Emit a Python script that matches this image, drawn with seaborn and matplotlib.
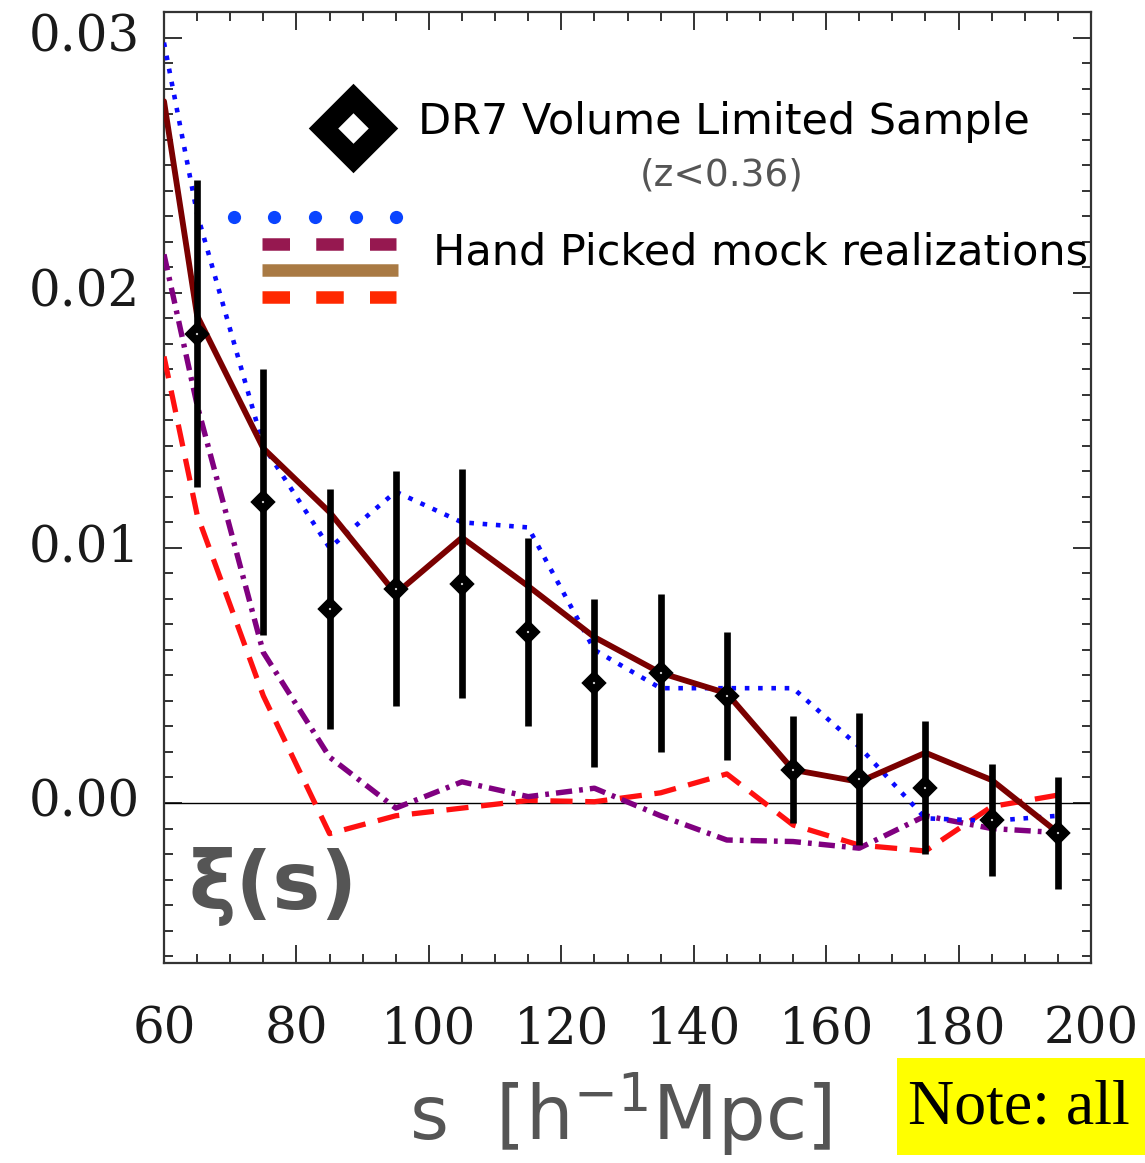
import numpy as np
import pandas as pd
import matplotlib
matplotlib.use("Agg")
import matplotlib.pyplot as plt
import seaborn as sns
from matplotlib.ticker import MultipleLocator, FormatStrFormatter
from matplotlib.patches import Rectangle

# ---------------- data ----------------
s_obs = [65, 75, 85, 95, 105, 115, 125, 135, 145, 155, 165, 175, 185, 195]
xi_obs = [0.0184, 0.0118, 0.0076, 0.0084, 0.0086, 0.0067, 0.0047, 0.0051, 0.0042,
          0.0013, 0.00094, 0.0006, -0.00067, -0.00117]
xi_err = [0.0060, 0.0052, 0.0047, 0.0046, 0.0045, 0.0037, 0.0033, 0.0031, 0.0025,
          0.0021, 0.0026, 0.0026, 0.0022, 0.0022]

s_mock = [60, 65, 75, 85, 95, 105, 115, 125, 135, 145, 155, 165, 175, 185, 195]
mock_solid = [0.0275, 0.0191, 0.0139, 0.0114, 0.0082, 0.0104, 0.0085, 0.0065, 0.0051,
              0.0043, 0.0013, 0.00083, 0.00197, 0.0009, -0.00116]
mock_dotted = [0.0298, 0.0231, 0.0140, 0.0100, 0.0122, 0.0110, 0.0108, 0.0060, 0.0045,
               0.0045, 0.0045, 0.0022, -0.0006, -0.0007, -0.0005]
mock_dashdot = [0.0215, 0.0156, 0.0059, 0.0018, -0.0002, 0.00083, 0.00025, 0.00058,
                -0.0005, -0.00145, -0.00151, -0.00177, -0.0005, -0.0010, -0.00116]
mock_dashed = [0.0175, 0.0113, 0.0042, -0.0012, -0.0005, -0.0002, 0.0001, 0.00005,
               0.0004, 0.00114, -0.00086, -0.00165, -0.00188, -0.00014, 0.00031]

x_ticks = [60, 80, 100, 120, 140, 160, 180, 200]
y_ticks = [0.00, 0.01, 0.02, 0.03]

# ---------------- style ----------------
sns.set_theme(style="white")
plt.rcParams['font.family'] = ['DejaVu Sans']

fig = plt.figure(figsize=(11.45, 11.63), dpi=100)
ax = fig.add_axes([164/1145, 1-963/1163, (1091-164)/1145, (963-12)/1163])

mock = pd.DataFrame({"s": s_mock, "solid": mock_solid, "dotted": mock_dotted,
                     "dashdot": mock_dashdot, "dashed": mock_dashed})

specs = [
    ("dashed", "#ff1010", (0, (4.2, 2.4)), 3.8),
    ("dashdot", "#800080", (0, (3.0, 1.3, 0.7, 1.3)), 3.9),
    ("dotted", "#0a0aff", (0, (1, 1.9)), 3.3),
    ("solid", "#7a0000", "-", 4.2),
]
for col, color, ls, lw in specs:
    n_before = len(ax.lines)
    sns.lineplot(data=mock, x="s", y=col, ax=ax, color=color,
                 estimator=None, errorbar=None, sort=False, legend=False)
    for ln in ax.lines[n_before:]:
        ln.set_linewidth(lw)
        ln.set_linestyle(ls)
        ln.set_dash_capstyle("butt")
        ln.set_zorder(3)

ax.axhline(0, color="black", lw=1.0, zorder=1.5)

ax.errorbar(s_obs, xi_obs, yerr=xi_err, fmt="none", ecolor="black", elinewidth=4.8,
            capsize=0, zorder=4)
ax.plot(s_obs, xi_obs, ls="none", marker="D", ms=6.8, mfc="white", mec="black", mew=5.8,
        zorder=5)

ax.set_xlim(60, 200)
ax.set_ylim(-0.00627, 0.031)
ax.set_xticks(x_ticks)
ax.set_yticks(y_ticks)
ax.xaxis.set_minor_locator(MultipleLocator(5))
ax.yaxis.set_minor_locator(MultipleLocator(0.001))
ax.yaxis.set_major_formatter(FormatStrFormatter('%.2f'))
ax.set_xlabel("")
ax.set_ylabel("")

ax.tick_params(which="both", direction="in", top=True, right=True, bottom=True, left=True,
               color="#333333", width=1.4)
ax.tick_params(which="major", length=13)
ax.tick_params(which="minor", length=6.5)
ax.tick_params(axis="x", which="major", pad=30, labelsize=36, labelfontfamily="DejaVu Serif",
               labelcolor="#1a1a1a")
ax.tick_params(axis="y", which="major", pad=17, labelsize=36, labelfontfamily="DejaVu Serif",
               labelcolor="#1a1a1a")
for lbl in ax.get_yticklabels():
    lbl.set_verticalalignment("center")
for sp in ax.spines.values():
    sp.set_color("#333333")
    sp.set_linewidth(1.6)

# ---------------- in-axes legend ----------------
T = ax.transAxes
ax.plot([0.2039], [0.878], transform=T, marker="D", ms=30.5, mfc="white", mec="black",
        mew=15, ls="none", clip_on=False, zorder=6)
ax.text(0.274, 0.884, "DR7 Volume Limited Sample", transform=T, fontsize=31,
        va="center", ha="left", color="black")
ax.text(0.602, 0.8286, "(z<0.36)", transform=T, fontsize=27, va="center", ha="center",
        color="#555555")

ax.plot(np.linspace(0.0755, 0.2503, 5), [0.7844]*5, transform=T, ls="none", marker="o",
        ms=9.5, mew=0, color="#0a44ff")
ax.plot([0.1057, 0.2503], [0.756, 0.756], transform=T, color="#961850", lw=9,
        linestyle=(0, (2.2, 2.1)), dash_capstyle="butt")
ax.plot([0.1057, 0.2524], [0.7287, 0.7287], transform=T, color="#a97a44", lw=9,
        solid_capstyle="butt")
ax.plot([0.1057, 0.2503], [0.7003, 0.7003], transform=T, color="#ff2800", lw=9,
        linestyle=(0, (2.2, 2.1)), dash_capstyle="butt")
ax.text(0.290, 0.7466, "Hand Picked mock realizations", transform=T, fontsize=31,
        va="center", ha="left", color="black", zorder=7)

ax.text(0.118, 0.080, "ξ(s)", transform=T, fontsize=58, va="center", ha="center",
        color="#555555", fontweight="bold")

# ---------------- axis label & note ----------------
fig.text(0.5415, 0.0413, r"s  [h$^{-1}$Mpc]", fontsize=54, va="center", ha="center",
         color="#555555")
fig.patches.append(Rectangle((897/1145, 1-1155/1163), (1145-897)/1145, 97/1163,
                             transform=fig.transFigure, facecolor="#ffff00",
                             edgecolor="none"))
fig.text(908/1145, 1-1108/1163, "Note: all", fontsize=46, va="center", ha="left",
         family="Liberation Serif", color="black")

fig.savefig("out.png", dpi=100)
